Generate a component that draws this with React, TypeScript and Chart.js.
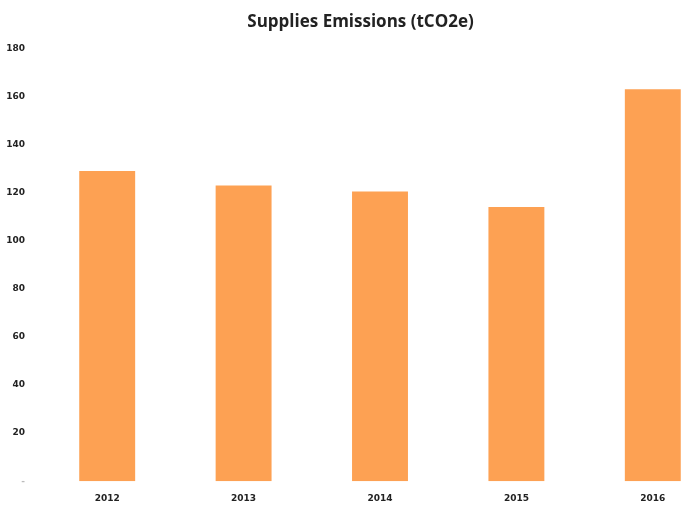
import React, { useEffect, useRef } from "react";
import { Chart, registerables } from "chart.js";

Chart.register(...registerables);

const categories = ["2012", "2013", "2014", "2015", "2016"];
const emissions = [129, 123, 120.5, 114, 163];
const yMax = 180;
const yStep = 20;
const title = "Supplies Emissions (tCO2e)";

export default function App() {
  const ref = useRef<HTMLCanvasElement | null>(null);
  useEffect(() => {
    if (!ref.current) return;
    const chart = new Chart(ref.current, {
      type: "bar",
      data: {
        labels: categories,
        datasets: [
          {
            data: emissions,
            backgroundColor: "#FDA153",
            borderWidth: 0,
            categoryPercentage: 1,
            barPercentage: 0.41,
          },
        ],
      },
      options: {
        animation: false,
        responsive: false,
        maintainAspectRatio: false,
        layout: { padding: { left: 0, right: 9, top: 0, bottom: 0 } },
        plugins: {
          legend: { display: false },
          tooltip: { enabled: false },
          title: {
            display: true,
            text: title,
            color: "#222",
            font: { family: "Open Sans", size: 17, weight: "bold" },
            padding: { top: 12, bottom: 16 },
          },
        },
        scales: {
          x: {
            grid: { display: false, drawTicks: false },
            border: { display: false },
            ticks: {
              color: "#222",
              padding: 12,
              font: { family: "DejaVu Sans", size: 9, weight: "bold" },
            },
          },
          y: {
            min: 0,
            max: yMax,
            grid: { display: false, drawTicks: false },
            border: { display: false },
            afterFit: (s: any) => {
              s.width = 39;
            },
            ticks: {
              stepSize: yStep,
              padding: 14,
              color: (c: any) => (c.tick && c.tick.value === 0 ? "#bbb" : "#222"),
              callback: (v: any) => (v === 0 ? "-" : String(v)),
              font: { family: "DejaVu Sans", size: 9, weight: "bold" },
            },
          },
        },
      },
    });
    return () => chart.destroy();
  }, []);
  return (
    <div
      style={{
        position: "fixed",
        left: 0,
        top: 0,
        width: 681,
        height: 506,
        overflow: "hidden",
        background: "#fff",
      }}
    >
      <canvas ref={ref} width={730} height={516} style={{ display: "block" }} />
    </div>
  );
}
